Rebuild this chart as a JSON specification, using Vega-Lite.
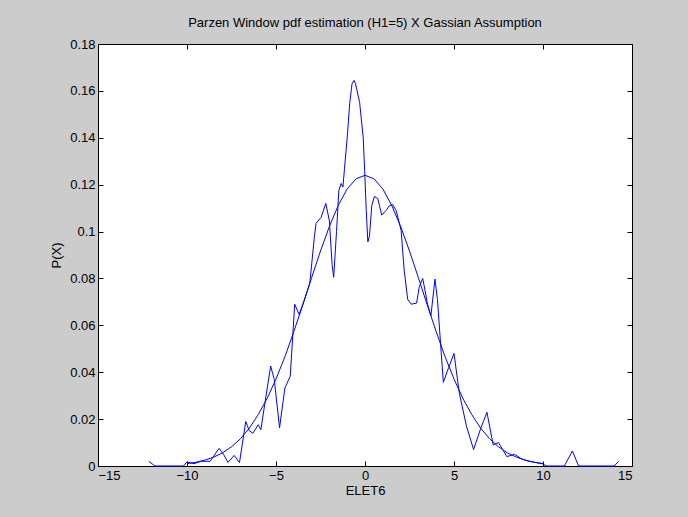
{
"$schema":"https://vega.github.io/schema/vega-lite/v6.json",
"autosize":"none","width":534,"height":422,
"padding":{"left":98,"top":44,"right":56,"bottom":51},
"background":"#cccccc",
"config":{"view":{"fill":"white","stroke":"black","strokeWidth":1},"font":"Liberation Sans",
 "axis":{"grid":false,"domainColor":"black","tickColor":"black","tickSize":-5,"labelFontSize":13,"labelColor":"black","titleFontSize":13,"titleFontWeight":"normal","titleColor":"black","labelPadding":8}},
"title":{"text":"Parzen Window pdf estimation (H1=5) X Gassian Assumption","fontSize":13,"fontWeight":"normal","offset":8,"color":"black"},
"resolve":{"axis":{"x":"independent","y":"independent"}},
"datasets":{
"parzen":[
{"x":-12.15,"y":0.002},{"x":-11.8,"y":0},{"x":-10.2,"y":0},{"x":-10,"y":0.0017},{"x":-9.6,"y":0.001},{"x":-9.2,"y":0.002},{"x":-8.7,"y":0.002},{"x":-8.2,"y":0.0075},{"x":-7.95,"y":0.005},{"x":-7.7,"y":0.0015},{"x":-7.35,"y":0.0045},{"x":-7.05,"y":0.0015},{"x":-6.7,"y":0.019},{"x":-6.5,"y":0.015},{"x":-6.3,"y":0.014},{"x":-6.0,"y":0.0176},{"x":-5.85,"y":0.0155},{"x":-5.6,"y":0.028},{"x":-5.3,"y":0.0426},{"x":-5.1,"y":0.037},{"x":-4.8,"y":0.0163},{"x":-4.5,"y":0.0333},{"x":-4.2,"y":0.0383},{"x":-3.95,"y":0.069},{"x":-3.7,"y":0.0646},{"x":-3.4,"y":0.071},{"x":-3.1,"y":0.078},{"x":-2.84,"y":0.098},{"x":-2.75,"y":0.1035},{"x":-2.47,"y":0.106},{"x":-2.2,"y":0.112},{"x":-2.0,"y":0.1045},{"x":-1.85,"y":0.086},{"x":-1.76,"y":0.0805},{"x":-1.6,"y":0.1},{"x":-1.47,"y":0.1175},{"x":-1.34,"y":0.1205},{"x":-1.24,"y":0.119},{"x":-1.15,"y":0.127},{"x":-1.0,"y":0.14},{"x":-0.86,"y":0.1546},{"x":-0.73,"y":0.163},{"x":-0.62,"y":0.1645},{"x":-0.53,"y":0.163},{"x":-0.3,"y":0.155},{"x":-0.1,"y":0.14},{"x":-0.02,"y":0.126},{"x":0.07,"y":0.109},{"x":0.16,"y":0.0956},{"x":0.25,"y":0.098},{"x":0.38,"y":0.111},{"x":0.53,"y":0.115},{"x":0.72,"y":0.114},{"x":0.94,"y":0.107},{"x":1.18,"y":0.109},{"x":1.37,"y":0.111},{"x":1.55,"y":0.1115},{"x":1.75,"y":0.109},{"x":2.03,"y":0.1005},{"x":2.2,"y":0.0835},{"x":2.4,"y":0.071},{"x":2.6,"y":0.069},{"x":2.9,"y":0.0695},{"x":3.05,"y":0.0765},{"x":3.24,"y":0.08},{"x":3.37,"y":0.075},{"x":3.5,"y":0.0695},{"x":3.7,"y":0.064},{"x":3.93,"y":0.0797},{"x":4.07,"y":0.071},{"x":4.4,"y":0.0357},{"x":4.7,"y":0.042},{"x":5.0,"y":0.048},{"x":5.3,"y":0.031},{"x":5.7,"y":0.017},{"x":6.1,"y":0.007},{"x":6.5,"y":0.016},{"x":6.85,"y":0.0229},{"x":7.2,"y":0.009},{"x":7.5,"y":0.01},{"x":7.97,"y":0.004},{"x":8.4,"y":0.005},{"x":8.8,"y":0.003},{"x":9.2,"y":0.002},{"x":9.95,"y":0.001},{"x":10.2,"y":0},{"x":11.2,"y":0},{"x":11.65,"y":0.0064},{"x":12.0,"y":0},{"x":14.0,"y":0},{"x":14.25,"y":0.002}
],
"gauss":[
{"x":-10,"y":0.001},{"x":-9.5,"y":0.0016},{"x":-9,"y":0.0025},{"x":-8.5,"y":0.0038},{"x":-8,"y":0.0056},{"x":-7.5,"y":0.0082},{"x":-7,"y":0.0116},{"x":-6.5,"y":0.0161},{"x":-6,"y":0.0219},{"x":-5.5,"y":0.0288},{"x":-5,"y":0.0371},{"x":-4.5,"y":0.0466},{"x":-4,"y":0.0573},{"x":-3.5,"y":0.0686},{"x":-3,"y":0.0803},{"x":-2.5,"y":0.0917},{"x":-2,"y":0.1022},{"x":-1.5,"y":0.1112},{"x":-1,"y":0.1182},{"x":-0.5,"y":0.1225},{"x":0,"y":0.124},{"x":0.5,"y":0.1225},{"x":1,"y":0.1182},{"x":1.5,"y":0.1112},{"x":2,"y":0.1022},{"x":2.5,"y":0.0917},{"x":3,"y":0.0803},{"x":3.5,"y":0.0686},{"x":4,"y":0.0573},{"x":4.5,"y":0.0466},{"x":5,"y":0.0371},{"x":5.5,"y":0.0288},{"x":6,"y":0.0219},{"x":6.5,"y":0.0161},{"x":7,"y":0.0116},{"x":7.5,"y":0.0082},{"x":8,"y":0.0056},{"x":8.5,"y":0.0038},{"x":9,"y":0.0025},{"x":9.5,"y":0.0016},{"x":10,"y":0.001}
]},
"layer":[
{"data":{"name":"gauss"},"mark":{"type":"line","color":"#0000ff","strokeWidth":1},
 "encoding":{"x":{"field":"x","type":"quantitative","scale":{"domain":[-15,15],"nice":false},"axis":{"orient":"bottom","title":"ELET6","values":[-15,-10,-5,0,5,10,15],"titlePadding":2}},
 "y":{"field":"y","type":"quantitative","scale":{"domain":[0,0.18],"nice":false},"axis":{"orient":"left","title":"P(X)","values":[0,0.02,0.04,0.06,0.08,0.1,0.12,0.14,0.16,0.18],"format":"~g","titlePadding":6}}}},
{"data":{"name":"parzen"},"mark":{"type":"line","color":"#0000ff","strokeWidth":1},
 "encoding":{"x":{"field":"x","type":"quantitative","axis":{"orient":"top","labels":false,"title":null,"values":[-15,-10,-5,0,5,10,15],"domain":false}},
 "y":{"field":"y","type":"quantitative","axis":{"orient":"right","labels":false,"title":null,"values":[0,0.02,0.04,0.06,0.08,0.1,0.12,0.14,0.16,0.18],"domain":false}}}}
]}
